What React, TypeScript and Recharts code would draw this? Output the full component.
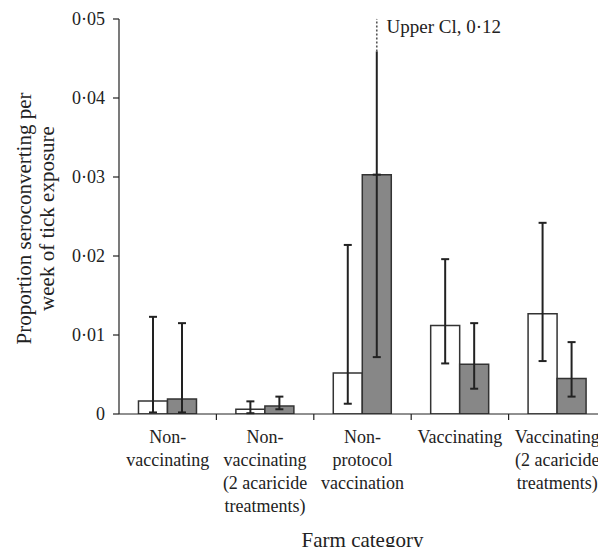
import React from 'react';
import { BarChart, Bar, XAxis, YAxis, ErrorBar, ReferenceDot } from 'recharts';

// farm categories, one entry per tick, already broken into the printed lines
const categoryLines = [
  ['Non-', 'vaccinating'],
  ['Non-', 'vaccinating', '(2 acaricide', 'treatments)'],
  ['Non-', 'protocol', 'vaccination'],
  ['Vaccinating'],
  ['Vaccinating', '(2 acaricide', 'treatments)'],
];

// open (white) bars with their confidence limits
const openValues = [0.00165, 0.0006, 0.0052, 0.0112, 0.0127];
const openLower = [0.0002, 0.0001, 0.0013, 0.0064, 0.0067];
const openUpper = [0.0123, 0.0016, 0.0214, 0.0196, 0.0242];

// shaded (grey) bars with their confidence limits
const shadedValues = [0.0019, 0.001, 0.0303, 0.0063, 0.0045];
const shadedLower = [0.0002, 0.0006, 0.0072, 0.0032, 0.0022];
const shadedUpper = [0.0115, 0.0022, 0.12, 0.0115, 0.0091];

const yTicks = [0, 0.01, 0.02, 0.03, 0.04, 0.05];
const yTop = 0.05;
const solidStop = 0.0459; // off-scale CI drawn solid up to here, dotted above
const upperNote = 'Upper Cl, 0·12';

const FONT = '"Liberation Serif", "Times New Roman", serif';
const INK = '#222';

const names = categoryLines.map((l) => l.join(' '));

const rows = names.map((name, i) => {
  const v = shadedValues[i];
  const off = shadedUpper[i] > yTop;
  return {
    name,
    open: openValues[i],
    shaded: v,
    openErr: [openValues[i] - openLower[i], openUpper[i] - openValues[i]],
    shadedErr: off ? [v - shadedLower[i], 0] : [v - shadedLower[i], shadedUpper[i] - v],
    shadedOpenEnd: off ? [0, solidStop - v] : null,
    shadedDots: off ? [v - solidStop, yTop - v] : null,
  };
});

const offScaleRow = rows.find((r) => r.shadedDots);

const fmt = (v: number) => (v === 0 ? '0' : v.toFixed(2).replace('.', '·'));

const CategoryTick = (props: any) => {
  const { x, y, payload } = props;
  const idx = names.indexOf(payload.value);
  const lines = categoryLines[idx] || [];
  const edge = x + (payload.offset || 0);
  return (
    <g>
      <line x1={edge} y1={y - 6} x2={edge} y2={y} stroke={INK} strokeWidth={1.2} />
      <text x={x} y={y} textAnchor="middle" fontFamily={FONT} fontSize={18} fill={INK}>
        {lines.map((t, k) => (
          <tspan key={k} x={x} dy={k === 0 ? 23 : 23}>
            {t}
          </tspan>
        ))}
      </text>
    </g>
  );
};

const YTitle = (props: any) => {
  const { viewBox } = props;
  const cy = viewBox.y + viewBox.height / 2 + 2;
  const l1 = viewBox.x + 31;
  const l2 = viewBox.x + 54;
  return (
    <g fontFamily={FONT} fontSize={21} fill={INK}>
      <text x={l1} y={cy} textAnchor="middle" transform={`rotate(-90, ${l1}, ${cy})`}>
        Proportion seroconverting per
      </text>
      <text x={l2} y={cy} textAnchor="middle" transform={`rotate(-90, ${l2}, ${cy})`}>
        week of tick exposure
      </text>
    </g>
  );
};

const XTitle = (props: any) => {
  const { viewBox } = props;
  return (
    <text
      x={viewBox.x + viewBox.width / 2}
      y={viewBox.y + viewBox.height}
      textAnchor="middle"
      fontFamily={FONT}
      fontSize={21}
      fill={INK}
    >
      Farm category
    </text>
  );
};

const NoteLabel = (props: any) => {
  const { viewBox } = props;
  return (
    <text x={viewBox.x + 24} y={viewBox.y} fontFamily={FONT} fontSize={19} fill={INK}>
      {upperNote}
    </text>
  );
};

export default function App() {
  return (
    <div
      style={{
        position: 'absolute',
        left: 0,
        top: 0,
        width: 598,
        height: 547,
        overflow: 'hidden',
        background: '#fff',
      }}
    >
      <BarChart
        width={620}
        height={547}
        data={rows}
        margin={{ top: 19, right: 14, bottom: 0, left: 0 }}
        barCategoryGap="20%"
        barGap={0}
      >
        <XAxis
          dataKey="name"
          height={133}
          tickLine={false}
          tickSize={6}
          tickMargin={0}
          interval={0}
          axisLine={{ stroke: INK, strokeWidth: 1.2 }}
          tick={<CategoryTick />}
          label={<XTitle />}
        />
        <YAxis
          width={119}
          domain={[0, yTop]}
          ticks={yTicks}
          allowDataOverflow
          tickFormatter={fmt}
          tickSize={6}
          tickMargin={8}
          axisLine={{ stroke: INK, strokeWidth: 1.2 }}
          tickLine={{ stroke: INK, strokeWidth: 1.2 }}
          tick={{ fontFamily: FONT, fontSize: 18, fill: INK }}
          label={<YTitle />}
        />
        <Bar dataKey="open" fill="#ffffff" stroke="#333" strokeWidth={1.5} isAnimationActive={false}>
          <ErrorBar dataKey="openErr" width={4} stroke={INK} strokeWidth={2} />
        </Bar>
        <Bar dataKey="shaded" fill="#878787" stroke="#333" strokeWidth={1.5} isAnimationActive={false}>
          <ErrorBar dataKey="shadedErr" width={4} stroke={INK} strokeWidth={2} />
          <ErrorBar dataKey="shadedOpenEnd" width={0} stroke={INK} strokeWidth={2} />
          <ErrorBar dataKey="shadedDots" width={0} stroke="#555" strokeWidth={1.6} strokeDasharray="2 2" />
        </Bar>
        {offScaleRow && (
          <ReferenceDot x={offScaleRow.name} y={0.0482} r={0} fill="none" stroke="none" label={<NoteLabel />} />
        )}
      </BarChart>
    </div>
  );
}
